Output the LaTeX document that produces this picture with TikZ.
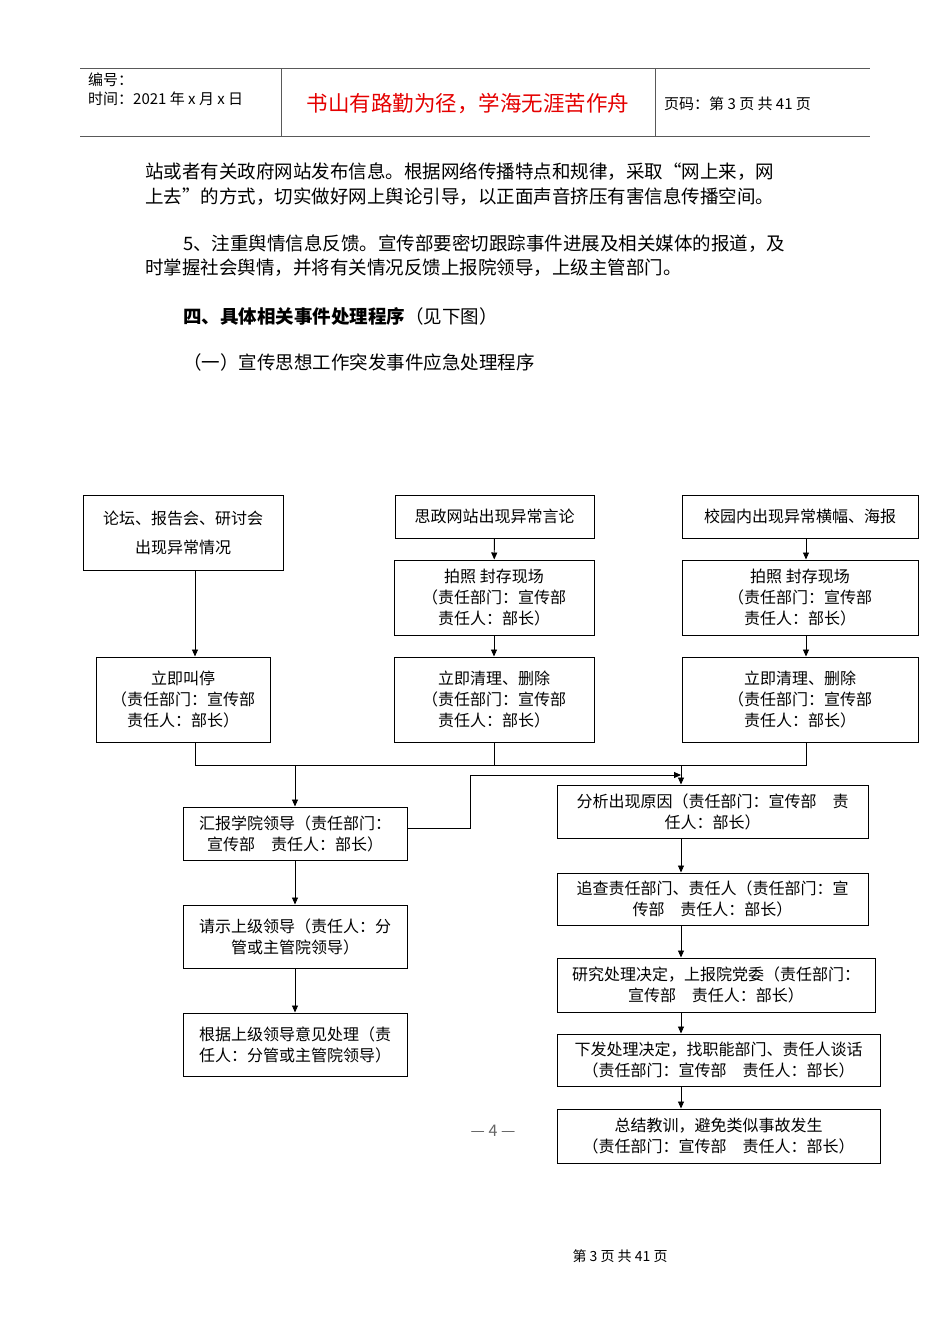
\documentclass[tikz,border=0pt]{standalone}
\usepackage{fontspec}
\setmainfont{Noto Sans CJK SC}
\usetikzlibrary{arrows.meta}
\begin{document}
\begin{tikzpicture}[x=1pt,y=-1pt,
  bx/.style={draw,line width=1pt,align=center,inner sep=1pt,font=\fontsize{16}{21}\selectfont},
  ar/.style={-{Triangle[length=7pt,width=6pt]},line width=0.9pt},
  ln/.style={line width=0.9pt},
  para/.style={anchor=west,font=\fontsize{18.5}{20}\selectfont,inner sep=0}]
\useasboundingbox[fill=white] (0,0) rectangle (950,1344);
% header
\draw[line width=1pt,gray!70!black] (80,68) -- (870,68) (80,136) -- (870,136) (281,68) -- (281,136) (655,68) -- (655,136);
\node[para,font=\fontsize{15}{17}\selectfont] (h1) at (88,80) {编号：};
\node[para,font=\fontsize{15}{17}\selectfont] (h2) at (88,99) {时间：2021 年 x 月 x 日};
\node[font=\fontsize{21.5}{24}\selectfont,text=red!90!black] (h3) at (468,104) {书山有路勤为径，学海无涯苦作舟};
\node[para,font=\fontsize{15}{17}\selectfont] (h4) at (664,104) {页码：第 3 页\ 共 41 页};
% paragraphs
\node[para] (p1) at (145,172) {站或者有关政府网站发布信息。根据网络传播特点和规律，采取“网上来，网};
\node[para] (p2) at (145,197) {上去”的方式，切实做好网上舆论引导，以正面声音挤压有害信息传播空间。};
\node[para] (p3) at (183,244) {5、注重舆情信息反馈。宣传部要密切跟踪事件进展及相关媒体的报道，及};
\node[para] (p4) at (145,268) {时掌握社会舆情，并将有关情况反馈上报院领导，上级主管部门。};
\node[para] (p5) at (183,316) {\textbf{四、具体相关事件处理程序}（见下图）};
\node[para] (p6) at (183,362) {（一）宣传思想工作突发事件应急处理程序};
% boxes
\node[bx,minimum width=200,minimum height=75] (a1) at (183,532.5) {论坛、报告会、研讨会\\[8pt]出现异常情况};
\node[bx,minimum width=199,minimum height=43] (b1) at (494.5,516.5) {思政网站出现异常言论};
\node[bx,minimum width=236,minimum height=43] (c1) at (800,516.5) {校园内出现异常横幅、海报};
\node[bx,minimum width=200,minimum height=75] (b2) at (494,597.5) {拍照\ 封存现场\\（责任部门：宣传部\\责任人：部长）};
\node[bx,minimum width=236,minimum height=75] (c2) at (800,597.5) {拍照\ 封存现场\\（责任部门：宣传部\\责任人：部长）};
\node[bx,minimum width=174,minimum height=85] (a2) at (183,699.5) {立即叫停\\（责任部门：宣传部\\责任人：部长）};
\node[bx,minimum width=200,minimum height=85] (b3) at (494,699.5) {立即清理、删除\\（责任部门：宣传部\\责任人：部长）};
\node[bx,minimum width=236,minimum height=85] (c3) at (800,699.5) {立即清理、删除\\（责任部门：宣传部\\责任人：部长）};
\node[bx,minimum width=224,minimum height=53] (d1) at (295,833.5) {汇报学院领导（责任部门：\\宣传部\quad 责任人：部长）};
\node[bx,minimum width=224,minimum height=63] (d2) at (295,936.5) {请示上级领导（责任人：分\\管或主管院领导）};
\node[bx,minimum width=224,minimum height=63] (d3) at (295,1044.5) {根据上级领导意见处理（责\\任人：分管或主管院领导）};
\node[bx,minimum width=311,minimum height=53] (e1) at (712.5,811.5) {分析出现原因（责任部门：宣传部\quad 责\\任人：部长）};
\node[bx,minimum width=311,minimum height=52] (e2) at (712.5,899) {追查责任部门、责任人（责任部门：宣\\传部\quad 责任人：部长）};
\node[bx,minimum width=318,minimum height=54] (e3) at (716,985) {研究处理决定，上报院党委（责任部门：\\宣传部\quad 责任人：部长）};
\node[bx,minimum width=323,minimum height=52] (e4) at (718.5,1060) {下发处理决定，找职能部门、责任人谈话\\（责任部门：宣传部\quad 责任人：部长）};
\node[bx,minimum width=323,minimum height=54] (e5) at (718.5,1136) {总结教训，避免类似事故发生\\（责任部门：宣传部\quad 责任人：部长）};
\node[font=\fontsize{16}{18}\selectfont,text=gray!80!black] (pg) at (493,1131) {— 4 —};
\node[font=\fontsize{14}{16}\selectfont] (ft) at (620,1256) {第 3 页 共 41 页};
% connectors
\coordinate (j1) at (195,765);
\coordinate (j2) at (806,765);
\draw[ar] (a1.south -| j1) -- (a2.north -| j1);
\draw[ar] (b1) -- (b2);
\draw[ar] (b2) -- (b3);
\draw[ar] (c1.south -| j2) -- (c2.north -| j2);
\draw[ar] (c2.south -| j2) -- (c3.north -| j2);
\draw[ln] (a2.south -| j1) -- (j1) -- (j2) -- (c3.south -| j2);
\draw[ln] (b3.south) -- (b3.south |- j1);
\draw[ar] (d1.north |- j1) -- (d1.north);
\draw[ar] (681,765) -- (e1.north -| 681,0);
\coordinate (k1) at (470,828);
\coordinate (k2) at (470,775);
\draw[ar] (d1.east |- k1) -- (k1) -- (k2) -- (681,775);
\draw[ar] (d1) -- (d2);
\draw[ar] (d2) -- (d3);
\draw[ar] (e1.south -| 681,0) -- (e2.north -| 681,0);
\draw[ar] (e2.south -| 681,0) -- (e3.north -| 681,0);
\draw[ar] (e3.south -| 681,0) -- (e4.north -| 681,0);
\draw[ar] (e4.south -| 681,0) -- (e5.north -| 681,0);
\end{tikzpicture}
\end{document}
